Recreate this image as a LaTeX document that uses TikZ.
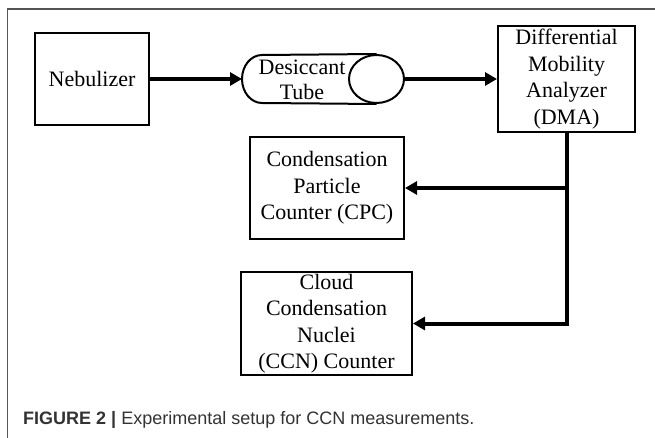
\documentclass[tikz,border=0pt]{standalone}
\usepackage{fontspec}
\setmainfont{Liberation Serif}
\newfontfamily\capfont{Liberation Sans}
\usetikzlibrary{arrows.meta,shapes.geometric}
\definecolor{framegray}{HTML}{555555}
\definecolor{capgray}{HTML}{333333}
\tikzset{
  box/.style={draw, line width=2pt, rectangle, inner sep=0pt, align=center,
    font=\fontsize{22}{26.5}\selectfont},
  conn/.style={line width=4pt, -{Triangle[length=12pt,width=13pt]}},
  lbl/.style={inner sep=0pt, align=center, font=\fontsize{22}{25}\selectfont},
}
\begin{document}
\begin{tikzpicture}[x=1pt,y=-1pt]
\useasboundingbox (0,0) rectangle (655,438);
% frame
\draw[framegray, line width=1.5pt] (7.5,438) -- (7.5,9) -- (655,9);
% boxes
\node[box, minimum width=114pt, minimum height=92pt] (neb) at (92,79) {Nebulizer};
\node[box, minimum width=137pt, minimum height=106pt] (dma) at (566.5,79)
  {Differential\\Mobility\\Analyzer\\(DMA)};
\node[box, minimum width=154pt, minimum height=102pt] (cpc) at (327,188)
  {Condensation\\Particle\\Counter (CPC)};
\node[box, minimum width=171pt, minimum height=103pt] (ccn) at (326.5,323.5)
  {Cloud\\Condensation\\Nuclei\\(CCN) Counter};
% desiccant tube
\node[draw, ellipse, line width=2pt, minimum width=55pt, minimum height=48pt, inner sep=0pt] (cap) at (376.5,79) {};
\draw[line width=2pt] (cap.north) -- (262,55) arc[start angle=270, end angle=90, x radius=20, y radius=24] -- (cap.south);
\coordinate (tubein) at (242,79);
\node[lbl] (tube) at (302,80) {Desiccant\\Tube};
% connectors
\draw[conn] (neb.east) -- (tubein);
\draw[conn] (cap.east) -- (dma.west);
\draw[conn] (dma.south) |- (ccn.east);
\draw[conn] (dma.south |- cpc.east) -- (cpc.east);
% caption
\node[anchor=west, inner sep=0pt, text=capgray, font=\capfont\fontsize{18}{20}\selectfont] (caption) at (23,420)
  {\textbf{FIGURE 2 |} Experimental setup for CCN measurements.};
\end{tikzpicture}
\end{document}
